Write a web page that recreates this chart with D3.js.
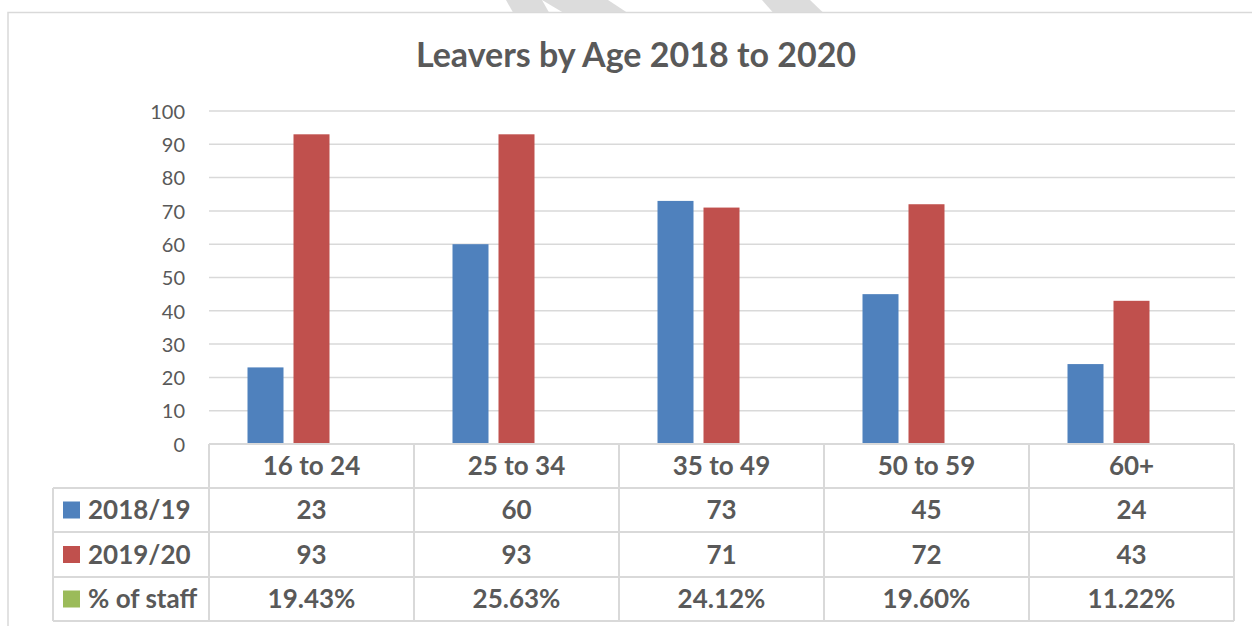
<!DOCTYPE html>
<html>
<head>
<meta charset="utf-8">
<script src="https://cdn.jsdelivr.net/npm/d3@7"></script>
<style>
  html, body { margin: 0; padding: 0; background: #ffffff; }
  svg { display: block; }
</style>
</head>
<body>
<svg id="chart" width="1252" height="626"></svg>
<script>
// ---- data ----
const categories = ["16 to 24", "25 to 34", "35 to 49", "50 to 59", "60+"];
const seriesNames = ["2018/19", "2019/20", "% of staff"];
const leavers1819 = [23, 60, 73, 45, 24];
const leavers1920 = [93, 93, 71, 72, 43];
const pctStaff = [19.43, 25.63, 24.12, 19.60, 11.22];
const yTickValues = [0, 10, 20, 30, 40, 50, 60, 70, 80, 90, 100];
const titleText = "Leavers by Age 2018 to 2020";

// ---- styles ----
const colors = ["#4F81BD", "#C0504D", "#9BBB59"];
const textCol = "#595959";
const lineCol = "#D9D9D9";
const font = "Lato, 'Open Sans', sans-serif";

const svg = d3.select("#chart");
svg.append("rect").attr("width", 1252).attr("height", 626).attr("fill", "#fff");

// faint watermark fragments above the chart frame
const watermark = [
  [[506,0],[542,0],[549,12.5],[513,12.5]],
  [[542,0],[608,0],[627,12.5],[563,12.5]],
  [[762,0],[810,0],[823,12.5],[773,12.5]]
];
svg.selectAll("polygon.wm").data(watermark).join("polygon")
  .attr("class", "wm")
  .attr("points", d => d.map(p => p.join(",")).join(" "))
  .attr("fill", "#DCDCDC");

// chart frame
svg.append("rect")
  .attr("x", 8).attr("y", 12.5).attr("width", 1270).attr("height", 640)
  .attr("fill", "#fff").attr("stroke", lineCol).attr("stroke-width", 1.5);

// title
svg.append("text")
  .attr("x", 636).attr("y", 67)
  .attr("text-anchor", "middle")
  .attr("font-family", font).attr("font-weight", 700)
  .attr("font-size", 34).attr("fill", textCol)
  .text(titleText);

// scales
const plotLeft = 209, plotRight = 1234, yTop = 111, yBottom = 444;
const x = d3.scaleBand().domain(categories).range([plotLeft, plotRight]).padding(0);
const xs = d3.scaleBand().domain(seriesNames).range([0, x.bandwidth()])
  .paddingInner(10 / 46).paddingOuter(0.837);
const y = d3.scaleLinear().domain([0, 100]).range([yBottom, yTop]);

// gridlines
svg.append("g").selectAll("line").data(yTickValues.filter(v => v > 0)).join("line")
  .attr("x1", plotLeft).attr("x2", plotRight + 1)
  .attr("y1", d => y(d)).attr("y2", d => y(d))
  .attr("stroke", lineCol).attr("stroke-width", 1.5);

// y axis labels
const yAxis = d3.axisLeft(y).tickValues(yTickValues).tickSize(0).tickPadding(0);
const gy = svg.append("g").attr("transform", "translate(185,0)").call(yAxis);
gy.select(".domain").remove();
gy.selectAll("text")
  .attr("font-family", font).attr("font-size", 20).attr("fill", textCol)
  .attr("dy", "0.36em");

// bars
const seriesData = [leavers1819, leavers1920, pctStaff.map(v => v / 100)];
seriesNames.forEach((s, si) => {
  svg.append("g").selectAll("rect").data(categories).join("rect")
    .attr("x", c => x(c) + xs(s))
    .attr("width", xs.bandwidth())
    .attr("y", (c, i) => y(seriesData[si][i]))
    .attr("height", (c, i) => y(0) - y(seriesData[si][i]))
    .attr("fill", colors[si]);
});

// data table
const tableLeft = 53;
const rowEdges = [444, 488, 532, 577, 621];
const tg = svg.append("g").attr("stroke", lineCol).attr("stroke-width", 2);
rowEdges.forEach((ry, i) => {
  tg.append("line")
    .attr("x1", i === 0 ? plotLeft : tableLeft).attr("x2", plotRight)
    .attr("y1", ry).attr("y2", ry);
});
tg.append("line").attr("x1", tableLeft).attr("x2", tableLeft)
  .attr("y1", rowEdges[1]).attr("y2", rowEdges[4]);
categories.concat([null]).forEach(c => {
  const vx = c === null ? plotRight : x(c);
  tg.append("line").attr("x1", vx).attr("x2", vx)
    .attr("y1", rowEdges[0]).attr("y2", rowEdges[4]);
});

const rowMid = i => (rowEdges[i] + rowEdges[i + 1]) / 2;
const cellText = (g, tx, ty, t, anchor) => g.append("text")
  .attr("x", tx).attr("y", ty).attr("dy", "0.36em")
  .attr("text-anchor", anchor || "middle")
  .attr("font-family", font).attr("font-weight", 700).attr("font-size", 26)
  .attr("fill", textCol).text(t);

const txt = svg.append("g");
categories.forEach(c => cellText(txt, x(c) + x.bandwidth() / 2, rowMid(0), c));
const rowValues = [
  leavers1819.map(String),
  leavers1920.map(String),
  pctStaff.map(v => v.toFixed(2) + "%")
];
seriesNames.forEach((s, si) => {
  const ry = rowMid(si + 1);
  svg.append("rect").attr("x", 63).attr("y", ry - 8.5).attr("width", 17).attr("height", 17)
    .attr("fill", colors[si]);
  cellText(txt, 88, ry, s, "start");
  categories.forEach((c, ci) => cellText(txt, x(c) + x.bandwidth() / 2, ry, rowValues[si][ci]));
});
</script>
</body>
</html>
